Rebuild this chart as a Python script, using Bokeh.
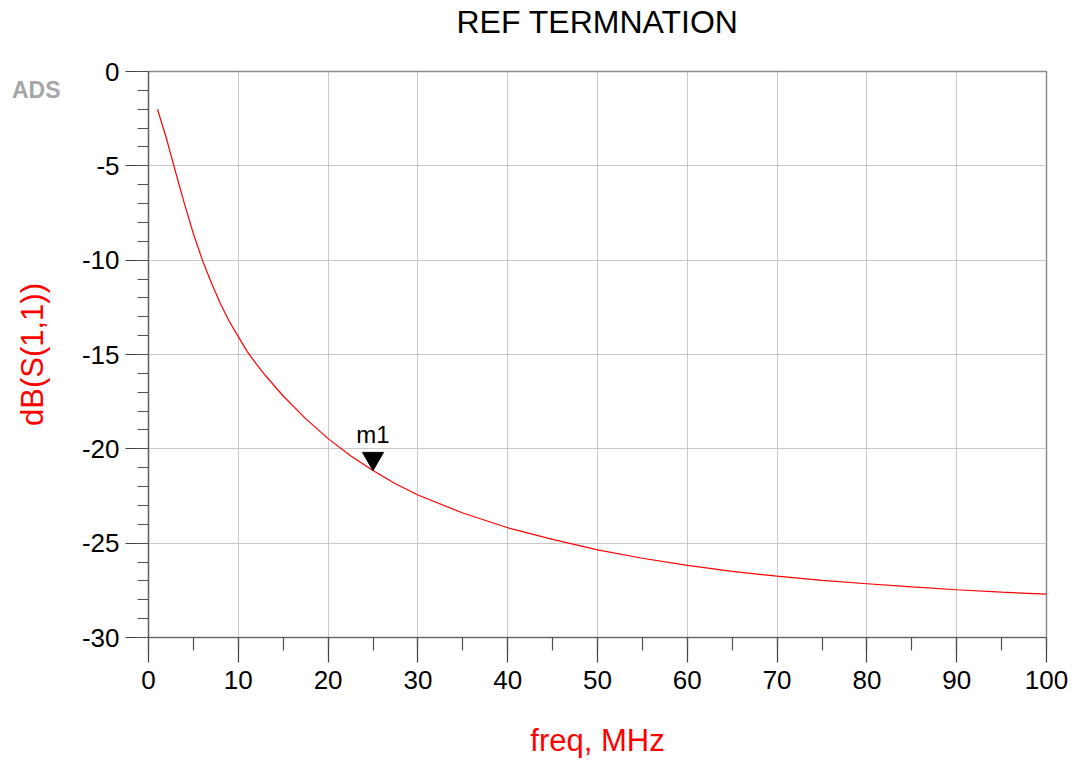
import math
from bokeh.plotting import figure
from bokeh.models import (Range1d, SingleIntervalTicker, FixedTicker, LinearAxis,
                          PrintfTickFormatter)
from bokeh.core.properties import value
from bokeh.embed import file_html
from bokeh.resources import INLINE

# data
freq_mhz = [1, 2, 3, 4, 5, 6, 7, 8, 9, 10, 11, 12, 13, 15, 17.5, 20,
            22.5, 25, 27.5, 30, 35, 40, 45, 50, 55, 60, 65, 70, 75, 80, 85, 90, 95, 100]
s11_db = [-2.0, -3.55, -5.3, -7.0, -8.6, -10.0, -11.2, -12.3, -13.25, -14.05, -14.85, -15.5,
          -16.1, -17.2, -18.4, -19.46, -20.37, -21.15, -21.85, -22.45, -23.4, -24.18, -24.8,
          -25.36, -25.8, -26.18, -26.5, -26.75, -26.97, -27.15, -27.32, -27.47, -27.6, -27.7]
marker_name = "m1"
marker_freq = [25]
marker_db = [-21.15]

title_text = "REF TERMNATION"
x_label = "freq, MHz"
y_label = "dB(S(1,1))"
logo_text = "ADS"
logo_tick = -1

FONT = "Liberation Sans"
W, H = 1070, 760
ML, MT = 148, 69
MR = W - 1046
MB = H - 637
FW, FH = W - ML - MR, H - MT - MB
Y0, Y1 = -30, 0

p = figure(width=W, height=H, output_backend="svg", toolbar_location=None,
           x_range=Range1d(0, 100), y_range=Range1d(Y0, Y1),
           min_border_left=ML, min_border_right=MR, min_border_top=MT, min_border_bottom=MB)
p.background_fill_color = "white"
p.border_fill_color = "white"
p.outline_line_color = "#8a8a8a"
p.outline_line_width = 1.5

p.xaxis.ticker = SingleIntervalTicker(interval=10, num_minor_ticks=2)
p.yaxis.ticker = SingleIntervalTicker(interval=5, num_minor_ticks=5)
for ax in (p.xaxis, p.yaxis):
    ax.axis_line_color = "#606060"
    ax.axis_line_width = 1.2
    ax.major_tick_line_color = "#404040"
    ax.minor_tick_line_color = "#505050"
    ax.major_tick_line_width = 1.2
    ax.minor_tick_line_width = 1.2
    ax.major_tick_in = 0
    ax.minor_tick_in = 0
    ax.major_label_text_font = FONT
    ax.major_label_text_font_size = "26px"
    ax.major_label_text_color = "black"
    ax.formatter = PrintfTickFormatter(format="%d")
p.xaxis.major_tick_out = 25
p.xaxis.minor_tick_out = 13
p.xaxis.major_label_standoff = 8
p.xaxis.axis_label = x_label
p.xaxis.axis_label_text_font = FONT
p.xaxis.axis_label_text_font_size = "31px"
p.xaxis.axis_label_text_font_style = "normal"
p.xaxis.axis_label_text_color = "#ff0000"
p.xaxis.axis_label_standoff = 31
p.yaxis.major_tick_out = 23
p.yaxis.minor_tick_out = 11
p.yaxis.major_label_standoff = 6

# top axis carrying the chart title
top = LinearAxis(ticker=FixedTicker(ticks=[]), axis_line_color=None,
                 major_tick_line_color=None, minor_tick_line_color=None,
                 major_tick_out=0, minor_tick_out=0, major_tick_in=0, minor_tick_in=0,
                 axis_label=title_text, axis_label_text_font=FONT,
                 axis_label_text_font_size="32px", axis_label_text_font_style="normal",
                 axis_label_text_color="black", axis_label_standoff=32)
p.add_layout(top, "above")

# outer left axis carrying the "ADS" logo text and the y-axis title
side = LinearAxis(ticker=FixedTicker(ticks=[logo_tick]),
                  major_label_overrides={logo_tick: logo_text},
                  axis_line_color=None, major_tick_line_color=None, minor_tick_line_color=None,
                  major_tick_out=0, minor_tick_out=0, major_tick_in=0, minor_tick_in=0,
                  major_label_standoff=18,
                  major_label_text_font=FONT, major_label_text_font_size="23px",
                  major_label_text_font_style="bold", major_label_text_color="#a6a6a6",
                  axis_label=y_label, axis_label_text_font=FONT,
                  axis_label_text_font_size="31px", axis_label_text_font_style="normal",
                  axis_label_text_color="#ff0000", axis_label_standoff=-41)
p.add_layout(side, "left")

p.grid.grid_line_color = "#c8c8c8"
p.grid.grid_line_width = 1

p.line(freq_mhz, s11_db, line_color="#ff0000", line_width=1.2)

# marker triangle: tip placed on the curve point
size = 21
tip_px = 2 * (size / 2) * math.sqrt(3) / 3
off = tip_px * (Y1 - Y0) / FH
p.scatter(marker_freq, [d + off for d in marker_db], marker="inverted_triangle",
          size=size, fill_color="black", line_color="black")
p.text(marker_freq, marker_db, text=[marker_name], text_align="center", text_baseline="alphabetic",
       y_offset=-36, text_font=value(FONT), text_font_size="24px", text_color="black")

open("out.html", "w").write(file_html(p, INLINE))
